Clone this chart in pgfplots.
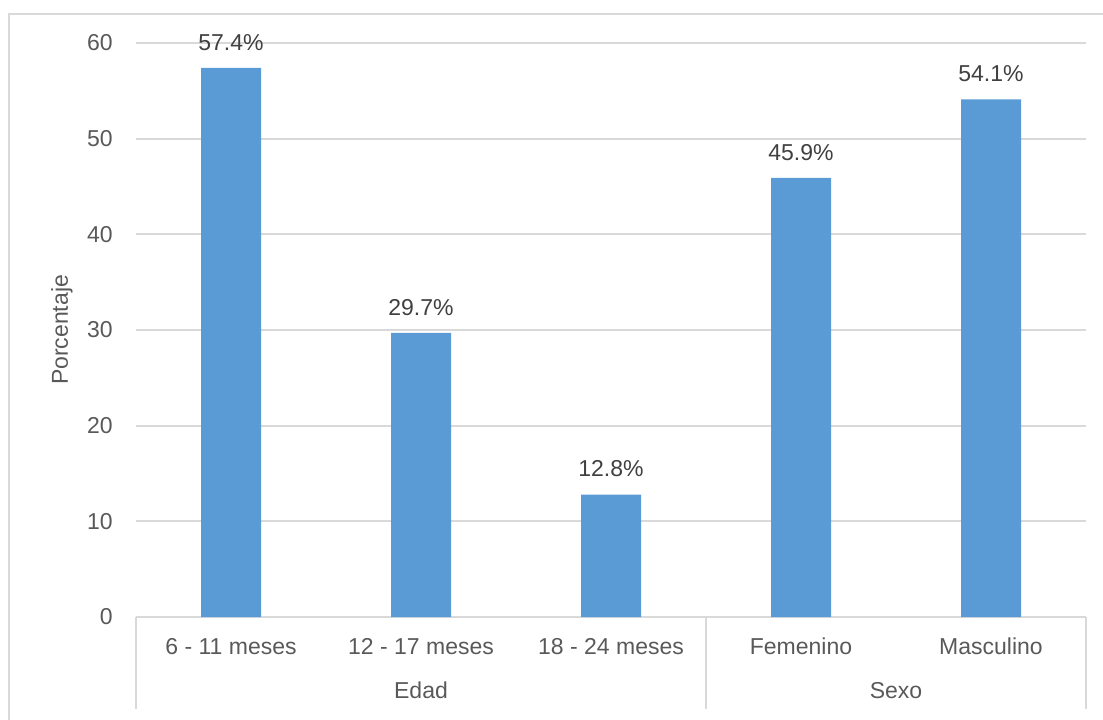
\documentclass[border=0pt]{standalone}
\usepackage{pgfplots}
\pgfplotsset{compat=1.18}
\usepackage{fontspec}
\setmainfont{Liberation Sans}
\definecolor{barblue}{HTML}{5B9BD5}
\definecolor{gridgray}{HTML}{D9D9D9}
\definecolor{labelgray}{HTML}{595959}
\definecolor{valgray}{HTML}{404040}

\begin{document}
\begin{tikzpicture}
\fontsize{11.5}{13.8}\selectfont
\useasboundingbox (0,0) rectangle (551.5pt,359.5pt);
% chart area frame
\begin{scope}
  \clip (0,0) rectangle (551.5pt,359.5pt);
  \draw[gridgray, line width=1pt] (4.5pt,-10pt) rectangle (570pt,352.5pt);
\end{scope}
\begin{axis}[
  at={(68pt,51pt)}, anchor=south west,
  scale only axis, width=475pt, height=287pt,
  xmin=-0.5, xmax=4.5, ymin=0, ymax=60,
  ytick={0,10,...,60},
  xtick=data,
  xticklabels={6 - 11 meses, 12 - 17 meses, 18 - 24 meses, Femenino, Masculino},
  major tick length=0pt,
  axis x line*=bottom,
  axis y line*=left,
  x axis line style={gridgray, line width=1pt, -},
  y axis line style={draw=none, -},
  ymajorgrids, grid style={gridgray, line width=1pt},
  clip=false,
  yticklabel style={text=labelgray, anchor=east, inner sep=0pt, xshift=-11.5pt,
    font=\fontsize{11.5}{13.8}\selectfont},
  xticklabel style={text=labelgray, anchor=base, inner sep=0pt, yshift=-18.5pt,
    font=\fontsize{11.5}{13.8}\selectfont},
  /pgf/number format/assume math mode=true,
  ybar, bar width=30pt,
  nodes near coords={\pgfmathprintnumber[fixed, fixed zerofill, precision=1]{\pgfplotspointmeta}\%},
  nodes near coords style={text=valgray, anchor=south, inner sep=0pt, yshift=8.5pt,
    font=\fontsize{11.5}{13.8}\selectfont},
]
\addplot[fill=barblue, draw=none] coordinates {(0,57.4) (1,29.7) (2,12.8) (3,45.9) (4,54.1)};
% group separators and group names
\draw[gridgray, line width=1pt] (axis cs:-0.5,0) -- ([yshift=-46pt]axis cs:-0.5,0);
\draw[gridgray, line width=1pt] (axis cs:2.5,0) -- ([yshift=-46pt]axis cs:2.5,0);
\draw[gridgray, line width=1pt] (axis cs:4.5,0) -- ([yshift=-46pt]axis cs:4.5,0);
\node[text=labelgray, anchor=base, inner sep=0pt] at ([yshift=-40.5pt]axis cs:1,0) {Edad};
\node[text=labelgray, anchor=base, inner sep=0pt] at ([yshift=-40.5pt]axis cs:3.5,0) {Sexo};
\end{axis}
\node[text=labelgray, rotate=90] at (31pt,194.5pt) {Porcentaje};
\end{tikzpicture}
\end{document}
